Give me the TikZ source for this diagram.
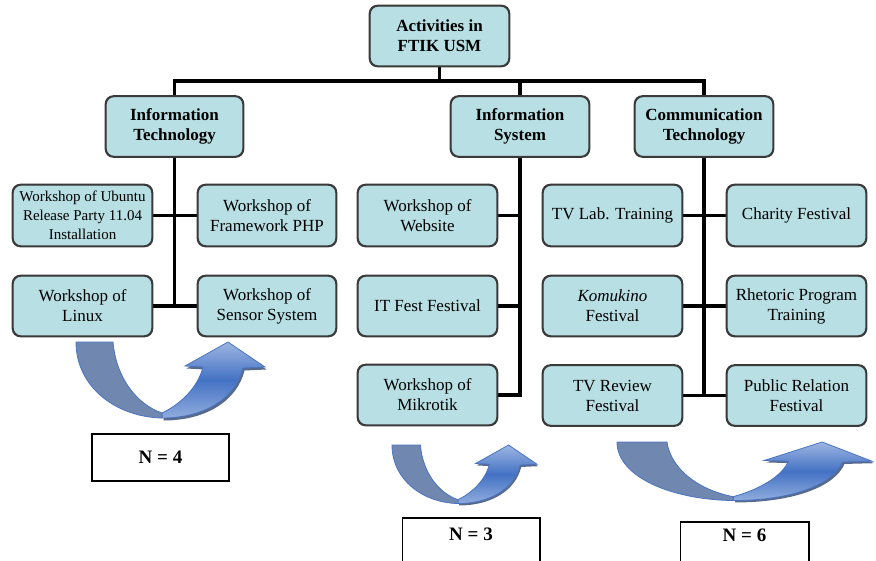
\documentclass[tikz,border=0pt]{standalone}
\usepackage{fontspec}
\setmainfont{Liberation Serif}
\usetikzlibrary{calc}
\definecolor{boxfill}{HTML}{B8DFE3}
\definecolor{boxline}{HTML}{3A3A3A}
\definecolor{armdark}{HTML}{7088B0}
\definecolor{armedge}{HTML}{4A74C0}
\definecolor{armlight}{HTML}{9DB6E2}
\definecolor{armmid}{HTML}{4472C4}
\definecolor{armshadow}{HTML}{1F3864}
\tikzset{
  uturn/.pic={
    % shadow of the rising band
    \fill[armshadow, opacity=0.75, shift={(1.5,2.5)}]
      (86,71) .. controls (105,62) and (122,45) .. (127,25) -- (109,24) -- (152,0)
      -- (189,25) -- (167,26) .. controls (160,55) and (130,76) .. (86,76) -- cycle;
    % rising light band with head
    \shade[top color=armlight, bottom color=armlight!85!armmid, middle color=armmid, draw=armedge, line width=0.8pt]
      (86,71) .. controls (105,62) and (122,45) .. (127,25) -- (109,24) -- (152,0)
      -- (189,25) -- (167,26) .. controls (160,55) and (130,76) .. (86,76) -- cycle;
    % falling dark band
    \fill[armdark, draw=armedge, line width=0.8pt]
      (0,0) -- (37,0) .. controls (40,35) and (60,62) .. (86,71) -- (86,76)
      .. controls (40,75) and (0,45) .. (0,0) -- cycle;
  }
}
\begin{document}
\begin{tikzpicture}[x=1pt,y=-1pt,
  act/.style={draw=boxline, line width=1.3pt, fill=boxfill, rounded corners=8pt,
    minimum width=138pt, minimum height=60pt, align=center, inner sep=1pt,
    font=\fontsize{17}{20}\selectfont},
  head/.style={act, font=\fontsize{17}{20}\selectfont\bfseries},
  conn/.style={line width=3.8pt, black},
  nbox/.style={draw=black, line width=1.5pt, fill=white, minimum width=137pt,
    minimum height=47pt, font=\fontsize{19}{22}\selectfont\bfseries},
  nline/.style={draw=black, line width=1.5pt}
]
\useasboundingbox (0,0) rectangle (876,560);

% heads
\node[head, minimum width=139pt] (top) at (439.5,36) {Activities in\\FTIK USM};
\node[head, minimum width=137pt] (it) at (174.5,126.5) {Information\\Technology};
\node[head] (is) at (520,126.5) {Information\\System};
\node[head] (ct) at (704,126.5) {Communication\\Technology};

% Information Technology activities
\node[act, minimum width=139pt, minimum height=61pt, font=\fontsize{15}{19}\selectfont] (ubuntu) at (82.5,215.5) {Workshop of Ubuntu\\Release Party 11.04\\Installation};
\node[act, minimum height=61pt] (php) at (267,215.5) {Workshop of\\Framework PHP};
\node[act, minimum width=139pt] (linux) at (82.5,306) {Workshop of\\Linux};
\node[act] (sensor) at (267,306) {Workshop of\\Sensor System};

% Information System activities
\node[act, minimum width=139pt, minimum height=61pt] (website) at (427.5,215.5) {Workshop of\\Website};
\node[act, minimum width=139pt] (itfest) at (427.5,306) {IT Fest Festival};
\node[act, minimum width=139pt] (mikrotik) at (427.5,395) {Workshop of\\Mikrotik};

% Communication Technology activities
\node[act, minimum width=139pt, minimum height=61pt] (tvlab) at (612.5,215.5) {TV Lab. Training};
\node[act, minimum width=139pt, minimum height=61pt] (charity) at (796.5,215.5) {Charity Festival};
\node[act, minimum width=139pt] (komukino) at (612.5,306) {\textit{Komukino}\\Festival};
\node[act, minimum width=139pt] (rhetoric) at (796.5,306) {Rhetoric Program\\Training};
\node[act, minimum width=139pt] (tvreview) at (612.5,395.5) {TV Review\\Festival};
\node[act, minimum width=139pt] (public) at (796.5,395.5) {Public Relation\\Festival};

% connectors
\coordinate (bus) at (439.5,81);
\draw[conn] (top.south) -- (bus);
\draw[conn] (it.north) |- (bus) -| (ct.north);
\draw[conn] (is.north) -- (is.north |- bus);

\draw[conn] (it.south) -- (it.south |- linux.east);
\draw[conn] (ubuntu.east) -- (php.west);
\draw[conn] (linux.east) -- (sensor.west);

\draw[conn] (is.south) -- (is.south |- mikrotik.east) -- (mikrotik.east);
\draw[conn] (website.east) -- (website.east -| is.south);
\draw[conn] (itfest.east) -- (itfest.east -| is.south);

\draw[conn] (ct.south) -- (ct.south |- tvreview.east);
\draw[conn] (tvlab.east) -- (charity.west);
\draw[conn] (komukino.east) -- (rhetoric.west);
\draw[conn] (tvreview.east) -- (public.west);

% redraw box outlines over connector ends
\foreach \n in {top,it,is,ct,ubuntu,php,linux,sensor,website,itfest,mikrotik,tvlab,charity,komukino,rhetoric,tvreview,public}{
  \draw[boxline, line width=1.3pt, rounded corners=8pt] (\n.south west) rectangle (\n.north east);
}

% U-turn arrows
\pic at (76,342) {uturn};
\pic[xscale=0.767, yscale=0.77] at (392,445) {uturn};
\pic[xscale=1.35, yscale=0.77] at (617,442) {uturn};

% N boxes
\node[nbox] (n4) at (160.5,457.5) {N = 4};
\node[nbox, draw=none, fill=none, minimum width=136pt, minimum height=32pt, anchor=north] (n3) at (471,518) {N = 3};
\draw[nline] ($(n3.north west)+(0,45)$) -- (n3.north west) -- (n3.north east) -- ($(n3.north east)+(0,45)$);
\node[nbox, draw=none, fill=none, minimum width=127pt, minimum height=26pt, anchor=north] (n6) at (744.5,522) {N = 6};
\draw[nline] ($(n6.north west)+(0,42)$) -- (n6.north west) -- (n6.north east) -- ($(n6.north east)+(0,42)$);
\end{tikzpicture}
\end{document}
